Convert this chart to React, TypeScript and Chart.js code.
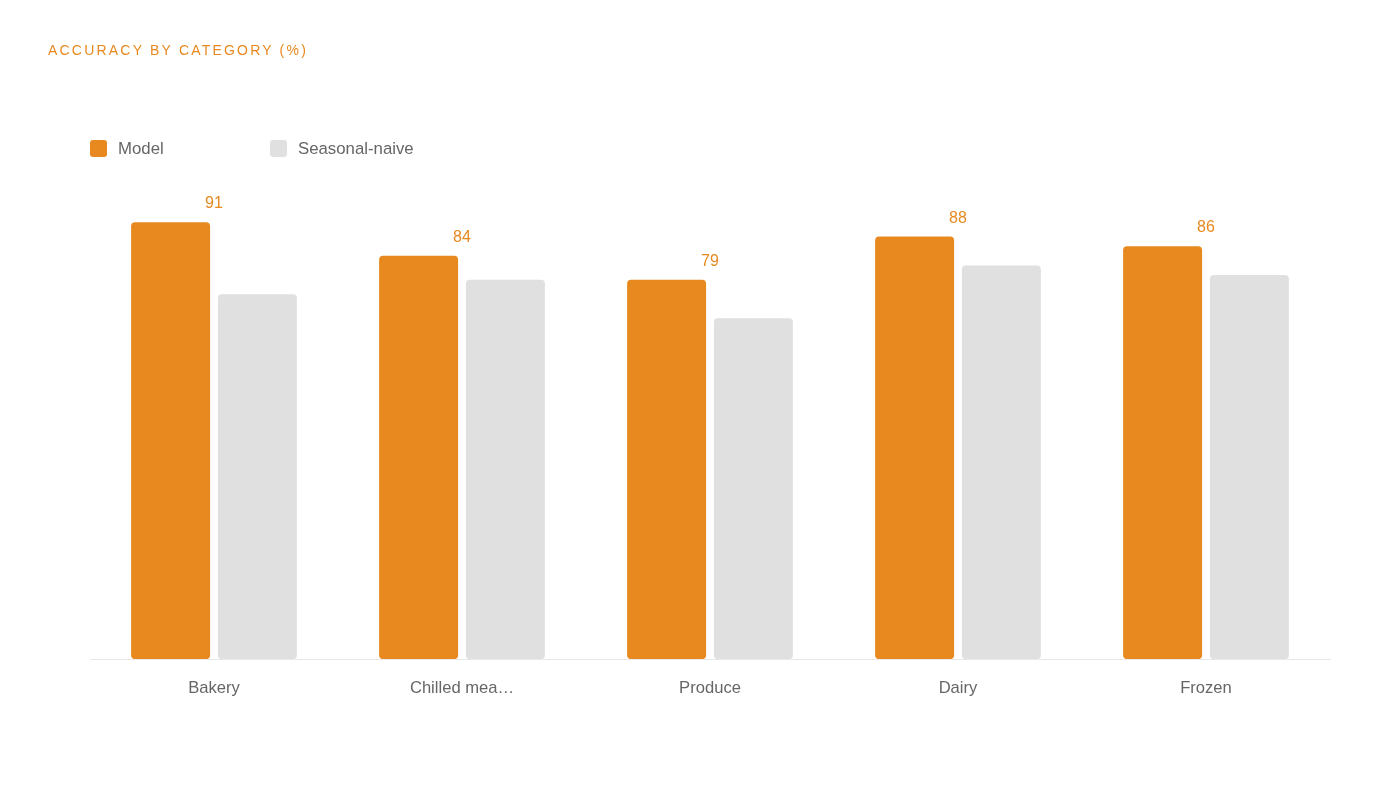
import React, { useEffect, useRef } from "react";
import { Chart, registerables } from "chart.js";

Chart.register(...registerables);

const categories = ["Bakery", "Chilled mea…", "Produce", "Dairy", "Frozen"];
const modelValues = [91, 84, 79, 88, 86];
const naiveValues = [76, 79, 71, 82, 80];
const seriesNames = ["Model", "Seasonal-naive"];

const ORANGE = "#E8891F";
const GRAY = "#E0E0E0";
const FONT = "'Liberation Sans', Arial, Helvetica, sans-serif";

const valueLabels = {
  id: "valueLabels",
  afterDatasetsDraw(chart: any) {
    const ctx = chart.ctx;
    const meta = chart.getDatasetMeta(0);
    const xScale = chart.scales.x;
    ctx.save();
    ctx.fillStyle = ORANGE;
    ctx.font = `16px ${FONT}`;
    ctx.textAlign = "center";
    ctx.textBaseline = "middle";
    meta.data.forEach((bar: any, i: number) => {
      const x = xScale.getPixelForValue(i);
      ctx.fillText(String(modelValues[i]), x, bar.y - 18.5);
    });
    ctx.restore();
  },
};

export default function App() {
  const ref = useRef<HTMLCanvasElement>(null);

  useEffect(() => {
    if (!ref.current) return;
    const chart = new Chart(ref.current, {
      type: "bar",
      data: {
        labels: categories,
        datasets: [
          {
            label: seriesNames[0],
            data: modelValues,
            backgroundColor: ORANGE,
            borderRadius: 4,
            borderSkipped: false,
            categoryPercentage: 0.7,
            barPercentage: 0.91,
          },
          {
            label: seriesNames[1],
            data: naiveValues,
            backgroundColor: GRAY,
            borderRadius: 4,
            borderSkipped: false,
            categoryPercentage: 0.7,
            barPercentage: 0.91,
          },
        ],
      },
      options: {
        animation: false,
        responsive: false,
        devicePixelRatio: 1,
        layout: { padding: { left: 90, right: 70, top: 179, bottom: 83 } },
        plugins: {
          legend: { display: false },
          tooltip: { enabled: false },
          title: { display: false },
        },
        scales: {
          x: {
            grid: { display: false, drawTicks: false },
            border: { display: true, color: "#E8E8E8", width: 1 },
            ticks: {
              color: "#666666",
              font: { family: FONT, size: 16.6 },
              padding: 19,
            },
          },
          y: {
            display: false,
            min: 0,
            max: 100,
          },
        },
      },
      plugins: [valueLabels],
    });
    return () => chart.destroy();
  }, []);

  const legendText: React.CSSProperties = {
    position: "absolute",
    top: 139,
    fontFamily: FONT,
    fontSize: 16.8,
    color: "#666666",
    lineHeight: "19px",
  };
  const box = (bg: string, left: number): React.CSSProperties => ({
    position: "absolute",
    left,
    top: 140,
    width: 17,
    height: 17,
    borderRadius: 3,
    background: bg,
  });

  return (
    <div style={{ position: "absolute", left: 0, top: 0, width: 1400, height: 800, background: "#fff" }}>
      <canvas ref={ref} width={1400} height={800} style={{ position: "absolute", left: 0, top: 0, width: 1400, height: 800 }} />
      <div
        style={{
          position: "absolute",
          left: 48,
          top: 42,
          fontFamily: FONT,
          fontSize: 14,
          letterSpacing: "2.2px",
          color: ORANGE,
          lineHeight: "16px",
        }}
      >
        ACCURACY BY CATEGORY (%)
      </div>
      <div style={box(ORANGE, 90)} />
      <div style={{ ...legendText, left: 118 }}>{seriesNames[0]}</div>
      <div style={box(GRAY, 270)} />
      <div style={{ ...legendText, left: 298 }}>{seriesNames[1]}</div>
    </div>
  );
}
